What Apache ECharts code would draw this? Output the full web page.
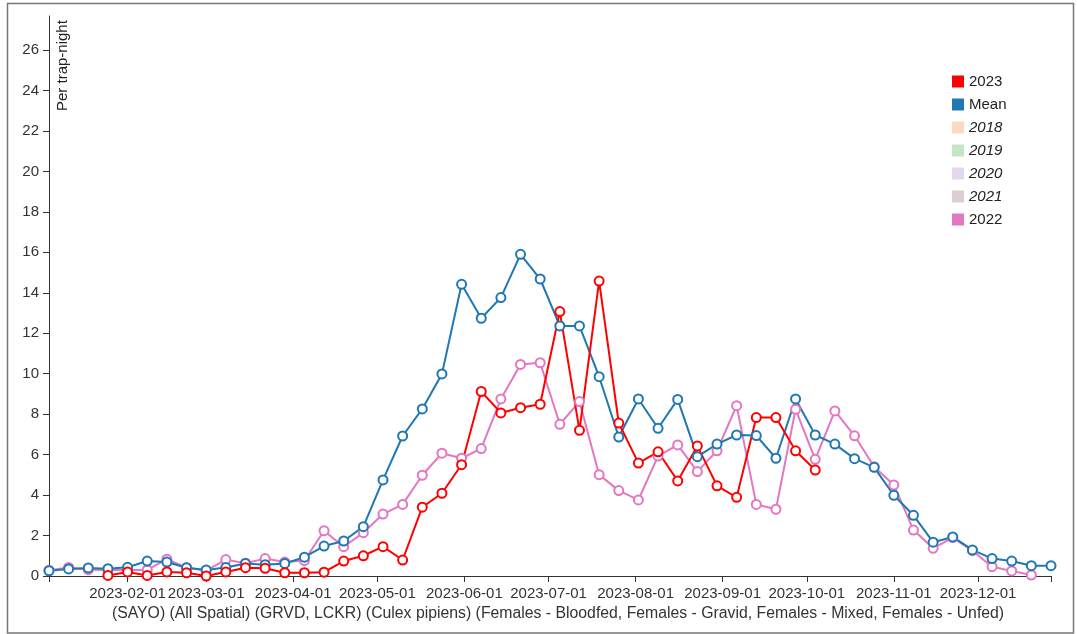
<!DOCTYPE html>
<html>
<head>
<meta charset="utf-8">
<script src="https://cdn.jsdelivr.net/npm/echarts/dist/echarts.min.js"></script>
<style>
	html, body { margin: 0; padding: 0; background: #fff; }
	#chart { width: 1077px; height: 634px; }
</style>
</head>
<body>
<div id="chart"></div>
<script>
// weekly collection dates
var weeks = [
	'2023-01-04', '2023-01-11', '2023-01-18', '2023-01-25',
	'2023-02-01', '2023-02-08', '2023-02-15', '2023-02-22',
	'2023-03-01', '2023-03-08', '2023-03-15', '2023-03-22', '2023-03-29',
	'2023-04-05', '2023-04-12', '2023-04-19', '2023-04-26',
	'2023-05-03', '2023-05-10', '2023-05-17', '2023-05-24', '2023-05-31',
	'2023-06-07', '2023-06-14', '2023-06-21', '2023-06-28',
	'2023-07-05', '2023-07-12', '2023-07-19', '2023-07-26',
	'2023-08-02', '2023-08-09', '2023-08-16', '2023-08-23', '2023-08-30',
	'2023-09-06', '2023-09-13', '2023-09-20', '2023-09-27',
	'2023-10-04', '2023-10-11', '2023-10-18', '2023-10-25',
	'2023-11-01', '2023-11-08', '2023-11-15', '2023-11-22', '2023-11-29',
	'2023-12-06', '2023-12-13', '2023-12-20', '2023-12-27'
];

var monthTicks = [
	'2023-02-01', '2023-03-01', '2023-04-01', '2023-05-01', '2023-06-01', '2023-07-01',
	'2023-08-01', '2023-09-01', '2023-10-01', '2023-11-01', '2023-12-01'
];

var val2023 = [
	null, null, null, 0.03,
	0.20, 0.03, 0.20, 0.16,
	0.00, 0.20, 0.41, 0.38, 0.16,
	0.16, 0.19, 0.74, 1.00,
	1.45, 0.79, 3.40, 4.09, 5.50,
	9.12, 8.06, 8.32, 8.49,
	13.07, 7.20, 14.58, 7.56,
	5.58, 6.14, 4.70, 6.43, 4.46,
	3.89, 7.83, 7.83, 6.19,
	5.24, null, null, null,
	null, null, null, null, null,
	null, null, null, null
];

var valMean = [
	0.26, 0.35, 0.40, 0.36,
	0.43, 0.74, 0.69, 0.41,
	0.30, 0.42, 0.62, 0.56, 0.62,
	0.93, 1.48, 1.73, 2.44,
	4.75, 6.92, 8.26, 9.99, 14.42,
	12.74, 13.76, 15.90, 14.68,
	12.36, 12.36, 9.85, 6.87,
	8.75, 7.30, 8.73, 5.90, 6.52,
	6.97, 6.94, 5.82, 8.75,
	6.97, 6.52, 5.80, 5.37,
	3.99, 3.00, 1.67, 1.93, 1.29,
	0.86, 0.74, 0.51, 0.51
];

var val2022 = [
	0.28, 0.42, 0.31, 0.30,
	0.30, 0.30, 0.83, 0.41,
	0.27, 0.81, 0.63, 0.86, 0.69,
	0.76, 2.24, 1.45, 2.14,
	3.06, 3.54, 4.98, 6.07, 5.82,
	6.30, 8.75, 10.46, 10.54,
	7.50, 8.62, 5.01, 4.22,
	3.76, 5.93, 6.48, 5.16, 6.19,
	8.42, 3.54, 3.30, 8.24,
	5.77, 8.16, 6.93, 5.40,
	4.50, 2.27, 1.37, 1.90, 1.25,
	0.46, 0.25, 0.05, null
];

// years with no values shown
var val2018 = [];
var val2019 = [];
var val2020 = [];
var val2021 = [];

var legendNames = ['2023', 'Mean', '2018', '2019', '2020', '2021', '2022'];
var legendItalic = ['2018', '2019', '2020', '2021'];
var colors = {
	'2023': '#ff0000',
	'Mean': '#1f77b4',
	'2018': '#fdd9bf',
	'2019': '#c6e5c6',
	'2020': '#e3d7ee',
	'2021': '#ddcfcf',
	'2022': '#e377c2'
};

function toTime(s) {
	var p = s.split('-');
	return Date.UTC(+p[0], +p[1] - 1, +p[2]);
}
function pad(n) {
	return n < 10 ? '0' + n : '' + n;
}
function pairs(values) {
	var out = [];
	for (var i = 0; i < weeks.length; i++) {
		out.push([toTime(weeks[i]), values[i] === undefined ? null : values[i]]);
	}
	return out;
}

var xMin = toTime(weeks[0]);
var xMax = toTime(weeks[weeks.length - 1]);
var labelTimes = [];
for (var i = 0; i < monthTicks.length; i++) {
	labelTimes.push(toTime(monthTicks[i]));
}
var tickTimes = [xMin].concat(labelTimes).concat([xMax]);

function makeSeries(name, values) {
	return {
		name : name,
		type : 'line',
		data : values.length ? pairs(values) : [],
		symbol : 'emptyCircle',
		symbolSize : 9,
		color : colors[name],
		lineStyle : { width : 2 },
		itemStyle : { borderWidth : 2 },
		connectNulls : false
	};
}

var legendData = [];
for (var i = 0; i < legendNames.length; i++) {
	var item = { name : legendNames[i], icon : 'rect' };
	if (legendItalic.indexOf(legendNames[i]) >= 0) {
		item.textStyle = { fontStyle : 'italic' };
	}
	legendData.push(item);
}

var textFont = 'Arial, "Liberation Sans", sans-serif';

var option = {
	animation : false,
	backgroundColor : '#fff',
	textStyle : { fontFamily : textFont },
	grid : {
		left : 49,
		right : 26,
		top : 16,
		bottom : 58,
		containLabel : false
	},
	legend : {
		orient : 'vertical',
		left : 947,
		top : 69,
		itemWidth : 12,
		itemHeight : 12,
		itemGap : 8,
		selectedMode : false,
		textStyle : {
			fontSize : 15,
			lineHeight : 15,
			color : '#222',
			fontFamily : textFont
		},
		data : legendData
	},
	xAxis : {
		type : 'value',
		min : xMin,
		max : xMax,
		splitLine : { show : false },
		axisLine : { lineStyle : { color : '#333', width : 1 } },
		axisTick : {
			show : true,
			length : 6,
			lineStyle : { color : '#333' },
			customValues : tickTimes
		},
		axisLabel : {
			fontSize : 15,
			color : '#333',
			margin : 10,
			customValues : labelTimes,
			formatter : function(v) {
				var d = new Date(v);
				return d.getUTCFullYear() + '-' + pad(d.getUTCMonth() + 1) + '-' + pad(d.getUTCDate());
			}
		},
		name : '(SAYO) (All Spatial) (GRVD, LCKR) (Culex pipiens) (Females - Bloodfed, Females - Gravid, Females - Mixed, Females - Unfed)',
		nameLocation : 'middle',
		nameGap : 27,
		nameTextStyle : {
			fontSize : 15.8,
			color : '#333',
			padding : [0, 0, 0, 16]
		}
	},
	yAxis : {
		type : 'value',
		min : 0,
		max : 27.68,
		interval : 2,
		splitLine : { show : false },
		axisLine : { show : true, lineStyle : { color : '#333', width : 1 } },
		axisTick : { show : true, length : 6, lineStyle : { color : '#333' } },
		axisLabel : {
			fontSize : 15,
			color : '#333',
			margin : 10,
			showMaxLabel : false
		}
	},
	graphic : [
		{
			type : 'rect',
			shape : { x : 7.5, y : 3.5, width : 1066, height : 629.5 },
			style : { fill : 'none', stroke : '#777', lineWidth : 1.5 },
			silent : true
		},
		{
			type : 'text',
			x : 63,
			y : 111,
			rotation : Math.PI / 2,
			style : {
				text : 'Per trap-night',
				fontSize : 15,
				fontFamily : textFont,
				fill : '#222',
				textAlign : 'left',
				textVerticalAlign : 'middle'
			}
		}
	],
	series : [
		makeSeries('2018', val2018),
		makeSeries('2019', val2019),
		makeSeries('2020', val2020),
		makeSeries('2021', val2021),
		makeSeries('2022', val2022),
		makeSeries('Mean', valMean),
		makeSeries('2023', val2023)
	]
};

var chart = echarts.init(document.getElementById('chart'), null, { renderer : 'canvas' });
chart.setOption(option);
</script>
</body>
</html>
